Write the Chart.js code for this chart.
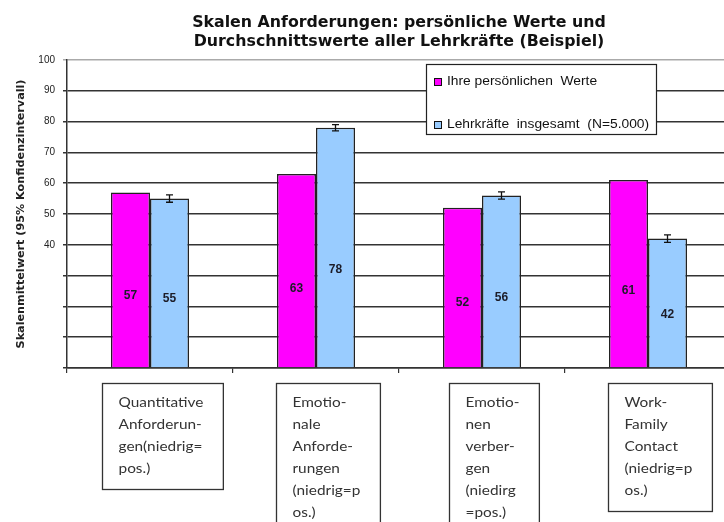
<!DOCTYPE html>
<html>
<head>
<meta charset="utf-8">
<script src="https://cdn.jsdelivr.net/npm/chart.js@4.4.1/dist/chart.umd.min.js"></script>
<style>
  html, body { margin: 0; padding: 0; background: #fff; overflow: hidden; }
  #wrap { position: relative; width: 740px; height: 522px; }
</style>
</head>
<body>
<div id="wrap"><canvas id="chart" width="740" height="522"></canvas></div>
<script>
  // Daten
  const titleLines = [
    "Skalen Anforderungen: persönliche Werte und",
    "Durchschnittswerte aller Lehrkräfte (Beispiel)"
  ];
  const categories = [
    ["Quantitative", "Anforderun-", "gen(niedrig=", "pos.)"],
    ["Emotio-", "nale", "Anforde-", "rungen", "(niedrig=p", "os.)"],
    ["Emotio-", "nen", "verber-", "gen", "(niedirg", "=pos.)"],
    ["Work-", "Family", "Contact", "(niedrig=p", "os.)"]
  ];
  const seriesNames = ["Ihre persönlichen  Werte", "Lehrkräfte  insgesamt  (N=5.000)"];
  const ownValues = [57, 63, 52, 61];
  const teacherValues = [55, 78, 56, 42];
  const teacherCI = [1.2, 1.0, 1.2, 1.2];
  const labelledTicks = [40, 50, 60, 70, 80, 90, 100];
  const yTitle = "Skalenmittelwert (95% Konfidenzintervall)";

  const MAGENTA = "#ff00ff";
  const LIGHTBLUE = "#99ccff";
  const INK = "#222";

  // gestreckten Text zeichnen (Vorlage ist horizontal etwas breiter)
  function wideText(ctx, txt, x, y, sx) {
    ctx.save();
    ctx.translate(x, y);
    ctx.scale(sx, 1);
    ctx.fillText(txt, 0, 0);
    ctx.restore();
  }

  // Werte in den Balken
  const valueLabels = {
    id: "valueLabels",
    afterDatasetsDraw(chart) {
      const ctx = chart.ctx, y = chart.scales.y;
      ctx.save();
      ctx.font = 'bold 12px "Liberation Sans", Arial, sans-serif';
      ctx.fillStyle = "#1c1c28";
      ctx.textAlign = "center";
      ctx.textBaseline = "middle";
      chart.data.datasets.forEach((ds, di) => {
        chart.getDatasetMeta(di).data.forEach((bar, i) => {
          const v = ds.data[i];
          ctx.fillText(String(v), bar.x, y.getPixelForValue(v * 0.41));
        });
      });
      ctx.restore();
    }
  };

  // Konfidenzintervalle (nur Lehrkräfte)
  const errorBars = {
    id: "errorBars",
    afterDatasetsDraw(chart) {
      const ctx = chart.ctx, y = chart.scales.y;
      const ds = chart.data.datasets[1];
      ctx.save();
      ctx.strokeStyle = "#111";
      ctx.lineWidth = 1.3;
      chart.getDatasetMeta(1).data.forEach((bar, i) => {
        const v = ds.data[i], e = teacherCI[i];
        const top = y.getPixelForValue(v + e), bot = y.getPixelForValue(v - e);
        ctx.beginPath();
        ctx.moveTo(bar.x, top); ctx.lineTo(bar.x, bot);
        ctx.moveTo(bar.x - 3.5, top); ctx.lineTo(bar.x + 3.5, top);
        ctx.moveTo(bar.x - 3.5, bot); ctx.lineTo(bar.x + 3.5, bot);
        ctx.stroke();
      });
      ctx.restore();
    }
  };

  // Legende im Kasten
  const legendBox = {
    id: "legendBox",
    afterDraw(chart) {
      const ctx = chart.ctx;
      const bx = 426.5, by = 64.5, bw = 230, bh = 70;
      ctx.save();
      ctx.fillStyle = "#fff";
      ctx.fillRect(bx, by, bw, bh);
      ctx.strokeStyle = INK;
      ctx.lineWidth = 1.2;
      ctx.strokeRect(bx, by, bw, bh);
      ctx.font = '12px "Liberation Sans", Arial, sans-serif';
      ctx.textBaseline = "middle";
      const rows = [82, 125];
      chart.data.datasets.forEach((ds, i) => {
        ctx.fillStyle = ds.backgroundColor;
        ctx.fillRect(434.5, rows[i] - 3.5, 7, 7);
        ctx.strokeStyle = "#111";
        ctx.lineWidth = 1;
        ctx.strokeRect(434.5, rows[i] - 3.5, 7, 7);
        ctx.fillStyle = "#111";
        wideText(ctx, ds.label, 447, rows[i], 1.15);
      });
      ctx.restore();
    }
  };

  // Kategorienbeschriftung in Kästen unter der Achse
  const categoryBoxes = {
    id: "categoryBoxes",
    afterDraw(chart) {
      const ctx = chart.ctx, x = chart.scales.x;
      const sx = 1.1;
      ctx.save();
      ctx.font = '14px Lato, "Open Sans", sans-serif';
      ctx.textBaseline = "middle";
      chart.data.labels.forEach((lines, i) => {
        const w = Math.max(...lines.map(t => ctx.measureText(t).width)) * sx + 36;
        const left = Math.round(x.getPixelForValue(i) + 12 - w / 2) + 0.5;
        const top = 383.5;
        const h = lines.length * 22 + 18;
        ctx.strokeStyle = "#333";
        ctx.lineWidth = 1.3;
        ctx.strokeRect(left, top, w, h);
        ctx.fillStyle = "#333";
        lines.forEach((t, k) => wideText(ctx, t, left + 16, top + 19 + k * 22, sx));
      });
      ctx.restore();
    }
  };

  new Chart(document.getElementById("chart"), {
    type: "bar",
    data: {
      labels: categories,
      datasets: [
        {
          label: seriesNames[0],
          data: ownValues,
          backgroundColor: MAGENTA,
          borderColor: "#222",
          borderWidth: 1.5
        },
        {
          label: seriesNames[1],
          data: teacherValues,
          backgroundColor: LIGHTBLUE,
          borderColor: "#222",
          borderWidth: 1.5
        }
      ]
    },
    options: {
      responsive: false,
      animation: false,
      layout: { padding: { left: 0, right: 9, top: 0, bottom: 149 } },
      datasets: { bar: { categoryPercentage: 0.47, barPercentage: 1.0 } },
      plugins: {
        legend: { display: false },
        tooltip: { enabled: false },
        title: {
          display: true,
          fullSize: false,
          text: titleLines,
          color: "#111",
          font: { family: '"DejaVu Sans", Verdana, sans-serif', size: 15.8, weight: "bold", lineHeight: 1.2 },
          padding: { top: 13.5, bottom: 8.5 }
        }
      },
      scales: {
        x: {
          offset: true,
          grid: { offset: true, drawOnChartArea: false, drawTicks: true, tickLength: 5, color: "#333", lineWidth: 1.2 },
          border: { color: "#333", width: 1.5 },
          ticks: { display: false }
        },
        y: {
          min: 0,
          max: 100,
          afterFit(s) { s.width = 67; },
          ticks: {
            stepSize: 10,
            padding: 8,
            color: INK,
            font: { family: '"Liberation Sans", Arial, sans-serif', size: 10 },
            callback: (v) => labelledTicks.includes(v) ? String(v) : ""
          },
          grid: {
            color: (c) => (c.tick && c.tick.value === 100) ? "#aaa" : "#333",
            lineWidth: 1.5,
            tickLength: 4
          },
          border: { color: "#333", width: 1.5 },
          title: {
            display: true,
            text: yTitle,
            color: INK,
            font: { family: '"DejaVu Sans", Verdana, sans-serif', size: 11.2, weight: "bold" },
            padding: { top: 14.5, bottom: 0 }
          }
        }
      }
    },
    plugins: [valueLabels, errorBars, legendBox, categoryBoxes]
  });
</script>
</body>
</html>
